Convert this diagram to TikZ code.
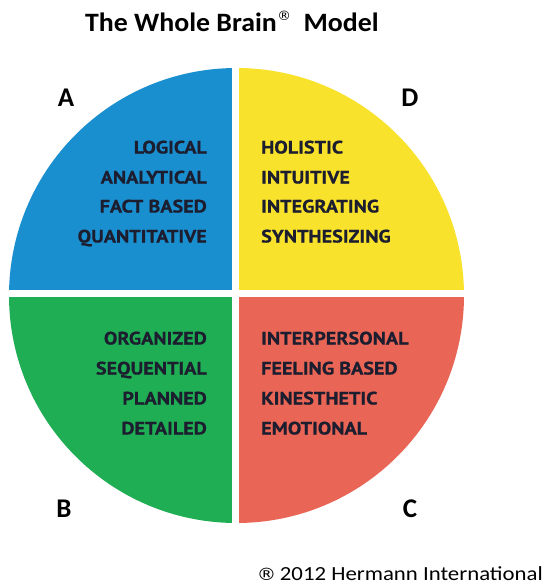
\documentclass[tikz,border=0pt]{standalone}
\usepackage{fontspec}
\usepackage{graphicx}
\setmainfont{Carlito}
\newfontfamily\qfont[FakeBold=0.6]{PT Sans Bold}
\newfontfamily\symfont{DejaVu Sans}
\newcommand{\qt}[1]{\scalebox{1.12}[1]{#1}}
\newcommand{\wide}[2]{\scalebox{#1}[1]{#2}}
\definecolor{qblue}{HTML}{1A8FCF}
\definecolor{qyellow}{HTML}{F8E22B}
\definecolor{qgreen}{HTML}{20AE55}
\definecolor{qred}{HTML}{E96555}
\definecolor{qtext}{HTML}{1C1E30}
\tikzset{
  qlabel/.style={font=\qfont\fontsize{18}{20}\selectfont, text=qtext, inner sep=0pt},
  qleft/.style={qlabel, anchor=base east},
  qright/.style={qlabel, anchor=base west},
  corner/.style={font=\bfseries\fontsize{27}{30}\selectfont, inner sep=0pt, anchor=base},
}
\begin{document}
\begin{tikzpicture}[x=1pt,y=-1pt]
\useasboundingbox (0,0) rectangle (546,586);
\fill[white] (0,0) rectangle (546,586);
\begin{scope}
  \clip (236.5,295.5) circle [radius=227.5pt];
  \fill[qblue]   (0,0) rectangle (232.2,289.5);
  \fill[qyellow] (239.2,0) rectangle (546,289.5);
  \fill[qgreen]  (0,297) rectangle (232.2,586);
  \fill[qred]    (239.2,297) rectangle (546,586);
\end{scope}
\node[font=\bfseries\fontsize{26.5}{30}\selectfont, anchor=base west, inner sep=0pt] (title) at (85,32)
  {\wide{1.05}{The Whole Brain\kern0.5pt\raisebox{0.42em}{\symfont\mdseries\fontsize{13}{14}\selectfont ®}\ \ Model}};
\node[corner] (A) at (66,106) {A};
\node[corner] (D) at (410,106) {D};
\node[corner] (B) at (64,517) {B};
\node[corner] (C) at (410,517) {C};
\node[qleft] (a1) at (207,153.5) {\qt{LOGICAL}};
\node[qleft] (a2) at (207,183.5) {\qt{ANALYTICAL}};
\node[qleft] (a3) at (207,212.5) {\qt{FACT BASED}};
\node[qleft] (a4) at (207,242.5) {\qt{QUANTITATIVE}};
\node[qright] (d1) at (261,153.5) {\qt{HOLISTIC}};
\node[qright] (d2) at (261,183.5) {\qt{INTUITIVE}};
\node[qright] (d3) at (261,212.5) {\qt{INTEGRATING}};
\node[qright] (d4) at (261,242.5) {\qt{SYNTHESIZING}};
\node[qleft] (b1) at (207,344.5) {\qt{ORGANIZED}};
\node[qleft] (b2) at (207,374.5) {\qt{SEQUENTIAL}};
\node[qleft] (b3) at (207,404.5) {\qt{PLANNED}};
\node[qleft] (b4) at (207,434.5) {\qt{DETAILED}};
\node[qright] (c1) at (261,344.5) {\qt{INTERPERSONAL}};
\node[qright] (c2) at (261,374.5) {\qt{FEELING BASED}};
\node[qright] (c3) at (261,404.5) {\qt{KINESTHETIC}};
\node[qright] (c4) at (261,434.5) {\qt{EMOTIONAL}};
\node[font=\fontsize{20}{24}\selectfont, anchor=base east, inner sep=0pt] (copy) at (543,580)
  {\wide{1.14}{{\symfont\fontsize{17}{20}\selectfont ®}\,2012 Hermann International}};
\end{tikzpicture}
\end{document}
